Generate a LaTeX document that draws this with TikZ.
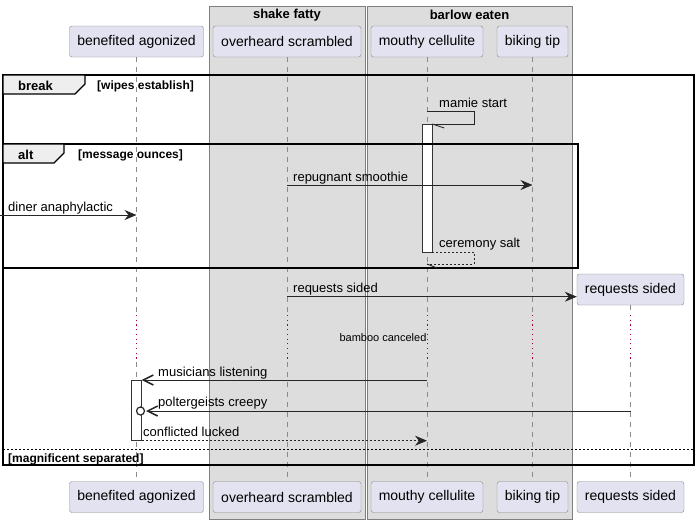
\documentclass[tikz,border=0pt]{standalone}
\usepackage{fontspec}
\setmainfont{Liberation Sans}
\usetikzlibrary{arrows.meta}
\definecolor{partfill}{HTML}{E2E2F0}
\definecolor{partline}{HTML}{8A8A8A}
\definecolor{boxfill}{HTML}{DDDDDD}
\definecolor{boxline}{HTML}{7F7F7F}
\definecolor{tabfill}{HTML}{EEEEEE}
\definecolor{delayred}{HTML}{A80036}
\begin{document}
\begin{tikzpicture}[x=1pt,y=-1pt,
    part/.style={draw=partline, fill=partfill, rounded corners=2.5pt, minimum height=31pt, inner sep=0pt, font=\fontsize{14}{16}\selectfont},
    grp/.style={draw=boxline, fill=boxfill},
    grptitle/.style={font=\bfseries\fontsize{13}{15}\selectfont},
    life/.style={draw=partline, dash pattern=on 5pt off 5pt, line width=0.8pt},
    delayline/.style={draw=delayred, dash pattern=on 1.2pt off 3.5pt, line width=1pt},
    act/.style={draw=black!80, fill=white, minimum width=10pt, inner sep=0pt},
    msg/.style={draw=black!85, line width=0.9pt, -{Stealth[length=12pt,width=10pt,inset=4pt]}},
    ret/.style={msg, dash pattern=on 2pt off 2pt},
    opn/.style={draw=black!85, line width=0.9pt, -{Straight Barb[length=10pt,width=10pt,line width=1.5pt]}},
    barb/.style={draw=black!85, line width=0.9pt},
    lbl/.style={anchor=base west, inner sep=0pt, font=\fontsize{13}{15}\selectfont},
    frm/.style={draw=black, line width=1.6pt},
    tab/.style={draw=black, line width=1.2pt, fill=tabfill},
    kw/.style={anchor=base west, inner sep=0pt, font=\bfseries\fontsize{13}{15}\selectfont},
    guard/.style={anchor=base west, inner sep=0pt, font=\bfseries\fontsize{12}{14}\selectfont}]

    \useasboundingbox (0,0) rectangle (700,523);
    \fill[white] (0,0) rectangle (700,523);

    \path[grp] (209,6) rectangle (365,519);
    \path[grp] (367,6) rectangle (572,519);
    \node[grptitle] (tShake) at (287,15) {shake fatty};
    \node[grptitle] (tBarlow) at (469.5,15) {barlow eaten};

    \node[part, minimum width=134pt] (ben) at (136.5,41.5) {benefited agonized};
    \node[part, minimum width=148pt] (ovr) at (287,41.5) {overheard scrambled};
    \node[part, minimum width=112pt] (mou) at (427,41.5) {mouthy cellulite};
    \node[part, minimum width=71pt] (bik) at (532.5,41.5) {biking tip};
    \node[part, minimum width=107pt] (req) at (630.5,289.5) {requests sided};

    \node[part, minimum width=134pt] (fben) at (136.5,497) {benefited agonized};
    \node[part, minimum width=148pt] (fovr) at (287,497) {overheard scrambled};
    \node[part, minimum width=112pt] (fmou) at (427,497) {mouthy cellulite};
    \node[part, minimum width=71pt] (fbik) at (532.5,497) {biking tip};
    \node[part, minimum width=107pt] (freq) at (630.5,497) {requests sided};

    \foreach \p in {ben,ovr,mou,bik,req} {
        \draw[life] (\p.south) -- (\p |- 0,315);
        \draw[delayline] (\p |- 0,315) -- (\p |- 0,362);
        \draw[life] (\p |- 0,362) -- (f\p.north);
    }
    \node[font=\fontsize{11}{13}\selectfont, inner sep=0pt] (delayTxt) at (383,338) {bamboo canceled};

    \node[act, minimum height=128pt] (actMou) at (427,188) {};
    \node[act, minimum height=60.7pt] (actBen) at (136.5,410.3) {};

    \draw[frm] (3,75) rectangle (694,465);
    \draw[tab] (3,75) -- (85,75) -- (85,84) -- (75,94) -- (3,94) -- cycle;
    \node[kw] (kBreak) at (18,90) {break};
    \node[guard] (gBreak) at (97,89) {[wipes establish]};
    \draw[dash pattern=on 2pt off 2pt, line width=0.9pt] (3,449) -- (694,449);
    \node[guard] (gElse) at (8,462) {[magnificent separated]};

    \draw[frm] (3,144) rectangle (578,268);
    \draw[tab] (3,144) -- (64,144) -- (64,153) -- (54,163) -- (3,163) -- cycle;
    \node[kw] (kAlt) at (18,159) {alt};
    \node[guard] (gAlt) at (78,158) {[message ounces]};

    \draw[barb] (mou |- 0,111) -- ++(47,0) |- (actMou.east |- 0,124);
    \draw[barb] (actMou.east |- 0,124) -- ++(12,4);
    \node[lbl] at (439,107) {mamie start};

    \draw[msg] (ovr |- 0,185) -- (bik |- 0,185);
    \node[lbl] at (293,181) {repugnant smoothie};

    \draw[msg] (0,215) -- (ben |- 0,215);
    \node[lbl] at (8,211) {diner anaphylactic};

    \draw[barb, dash pattern=on 2pt off 2pt] (actMou.east |- 0,252) -- ++(42,0) |- (mou |- 0,264);
    \draw[barb] (mou |- 0,264) -- ++(10,4);
    \node[lbl] at (439,247) {ceremony salt};

    \draw[msg] (ovr |- 0,296.7) -- (req.west |- 0,296.7);
    \node[lbl] at (293,292) {requests sided};

    \draw[opn] (mou |- 0,380) -- (actBen.east |- 0,380);
    \node[lbl] at (158,376) {musicians listening};

    \draw[opn] (req |- 0,411) -- (146,411);
    \draw[line width=1.2pt, draw=black!85, fill=white] (140.5,411) circle (4pt);
    \node[lbl] at (158,406) {poltergeists creepy};

    \draw[ret] (actBen.east |- 0,440.7) -- (mou |- 0,440.7);
    \node[lbl] at (143,436) {conflicted lucked};
\end{tikzpicture}
\end{document}
